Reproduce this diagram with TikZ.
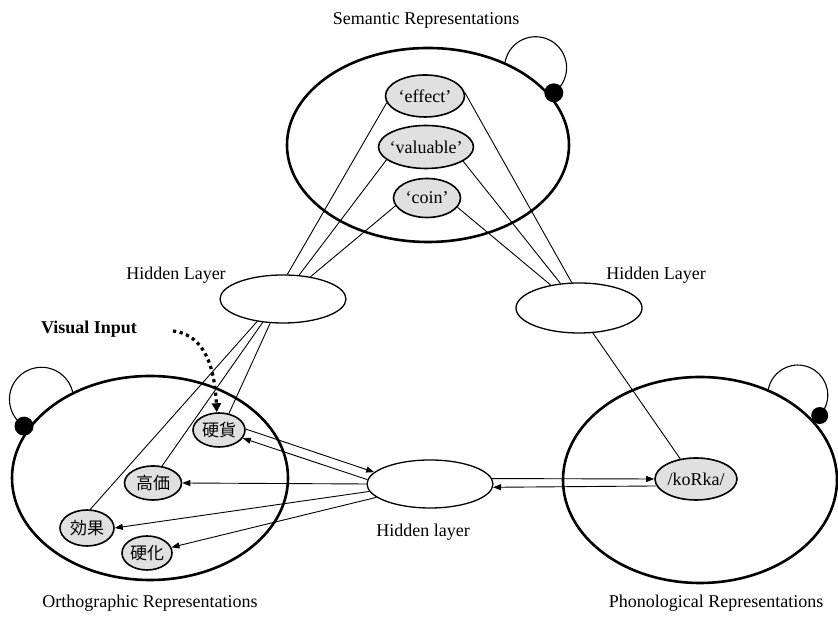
\documentclass[tikz,border=0pt]{standalone}
\usepackage{fontspec}
\setmainfont{Liberation Serif}
\newfontfamily\jpfont{Noto Sans CJK JP}
\usetikzlibrary{shapes.geometric,arrows.meta}
\newcommand{\inbox}[1]{\makebox[0pt]{#1}}
\newcommand{\kanji}[1]{\makebox[0pt]{\jpfont\fontsize{17}{20}\selectfont #1}}

\begin{document}
\begin{tikzpicture}[x=1pt,y=1pt,font=\fontsize{18}{21}\selectfont,
  pool/.style={ellipse,draw,line width=2.6pt,inner sep=0pt},
  unit/.style={ellipse,draw,line width=1.6pt,fill=black!12,inner sep=0pt},
  hidden/.style={ellipse,draw,line width=1.3pt,inner sep=0pt,minimum width=126pt,minimum height=48pt},
  link/.style={line width=0.9pt},
  arr/.style={line width=0.9pt,-{Triangle[length=8pt,width=6pt]}},
  loopdot/.style={circle,fill=black,inner sep=0pt,minimum size=19pt}]
\useasboundingbox (0,0) rectangle (838,617);
\node[pool,minimum width=282pt,minimum height=194pt] (sem) at (428,472) {};
\node[pool,minimum width=276pt,minimum height=204pt] (orth) at (150,139) {};
\node[pool,minimum width=274pt,minimum height=206pt] (phon) at (700,137) {};
\node (semlabel) at (426,597) {Semantic Representations};
\node (orthlabel) at (150,14) {Orthographic Representations};
\node (phonlabel) at (716,14) {Phonological Representations};
\node[unit,minimum width=79pt,minimum height=42pt] (effect) at (425,521) {\inbox{`effect'}};
\node[unit,minimum width=95pt,minimum height=43pt] (valuable) at (426,470) {\inbox{`valuable'}};
\node[unit,minimum width=67pt,minimum height=39pt] (coin) at (427,419) {\inbox{`coin'}};
\node[hidden] (hidL) at (283,318) {};
\node[hidden,minimum height=50pt] (hidR) at (579,309) {};
\node[hidden] (hidB) at (430,133) {};
\node (hidLlabel) at (176,342) {Hidden Layer};
\node (hidRlabel) at (656,342) {Hidden Layer};
\node (hidBlabel) at (423,85) {Hidden layer};
\node[unit,minimum width=52pt,minimum height=34pt] (koka) at (219,187) {\kanji{硬貨}};
\node[unit,minimum width=57pt,minimum height=34pt] (koukaV) at (153,134) {\kanji{高価}};
\node[unit,minimum width=54pt,minimum height=36pt] (koukaE) at (87,89) {\kanji{効果}};
\node[unit,minimum width=50pt,minimum height=34pt] (koukaH) at (147,64) {\kanji{硬化}};
\node[unit,minimum width=82pt,minimum height=42pt] (korka) at (696,138) {\inbox{/koRka/}};
\node[font=\fontsize{18}{21}\selectfont\bfseries] (visual) at (89,288) {Visual Input};
\coordinate (dotstart) at (173,286);
\draw[link] (effect.190) -- (hidL.80);
\draw[link] (valuable.198) -- (hidL.56);
\draw[link] (coin.194) -- (hidL.39);
\draw[link] (effect.5) -- (hidR.106);
\draw[link] (valuable.339) -- (hidR.127);
\draw[link] (coin.343) -- (hidR.141);
\draw[link] (hidR.299) -- (korka.128);
\draw[link] (hidL.242) -- (koka.59);
\draw[link] (hidL.229) -- (koukaV.62);
\draw[link] (hidL.221) -- (koukaE.80);
\draw[arr] (koka.2) -- (hidB.168);
\draw[arr] (hidB.176) -- (koka.341);
\draw[arr] (hidB.west) -- (koukaV.east);
\draw[arr] (hidB.187) -- (koukaE.east);
\draw[arr] (hidB.194) -- (koukaH.13);
\draw[arr] (hidB.5) -- (korka.west);
\draw[arr] (korka.190) -- (hidB.357);
\draw[line width=3.2pt,dash pattern=on 3.2pt off 3.6pt,-{Triangle[length=9pt,width=9pt]}] (dotstart) .. controls (198,283) and (214,262) .. (koka.97);
\draw[line width=1.1pt] (sem.47) arc[start angle=170,end angle=-54,radius=31] coordinate (semend);
\node[loopdot] (semdot) at (semend) {};
\draw[line width=1.1pt] (orth.132) arc[start angle=13,end angle=237,radius=32] coordinate (orthend);
\node[loopdot] (orthdot) at (orthend) {};
\draw[line width=1.1pt] (phon.53) arc[start angle=169,end angle=-43,radius=30] coordinate (phonend);
\node[loopdot,minimum size=17pt] (phondot) at (phonend) {};
\end{tikzpicture}
\end{document}
